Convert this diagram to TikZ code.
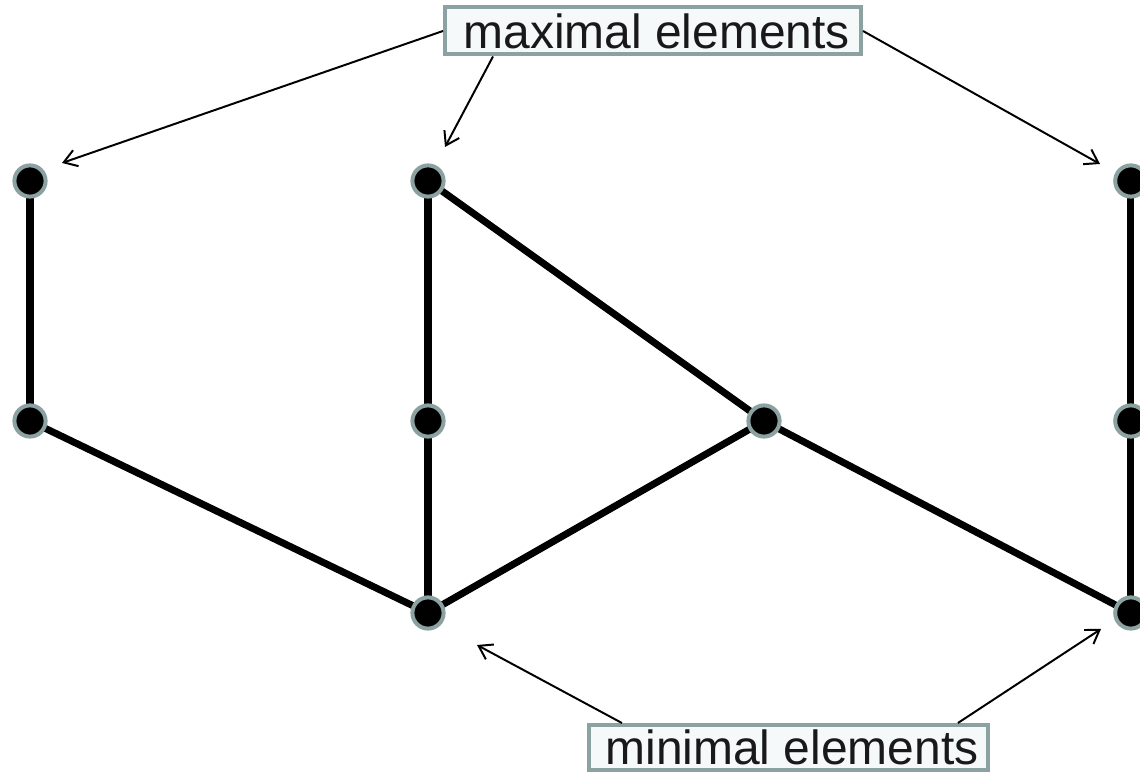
\documentclass[tikz,border=0pt]{standalone}
\usepackage{fontspec}
\setmainfont{Liberation Sans}
\usepackage{tikz}
\usetikzlibrary{calc, arrows.meta}
\usepackage{tkz-euclide}
\usepackage{xcolor}
\definecolor{rimgray}{RGB}{140,162,162}
\definecolor{boxfill}{RGB}{245,249,250}
\tikzset{
  elem/.style={circle, fill=black, draw=rimgray, line width=0.1cm, minimum size=0.78cm, inner sep=0pt},
  tag/.style={draw=rimgray, fill=boxfill, line width=0.1cm, inner sep=0pt, text=black!90, font=\fontsize{34.1}{40}\selectfont},
  pointer/.style={line width=1.4pt, -{Straight Barb[length=0.32cm, width=0.42cm]}}
}

\begin{document}
\begin{tikzpicture}
            \useasboundingbox (0,0) rectangle (28.5,19.325);
            \tkzDefPoints{0.75/14.8/A1, 0.75/8.8/A2, 10.7/14.8/B1, 10.7/8.8/B2, 10.7/4.0/B0, 19.1/8.8/C, 28.27/14.8/D1, 28.27/8.8/D2, 28.27/4.0/D0}
            \tkzDefPoints{1.55/15.25/tA, 11.125/15.65/tB, 27.5/15.225/tD, 11.925/3.2/tB0, 27.525/3.6/tD0}
            \tkzDrawSegments[line width=5pt](A1,A2 A2,B0 B1,B0 B1,C C,D0 B0,C D1,D0)
            \foreach \p in {A1,A2,B1,B2,B0,C,D1,D2,D0}
              \node[elem] (n\p) at (\p) {};
            \node[tag, minimum width=10.4cm, minimum height=1.175cm] (maxbox) at (16.325,18.55) {\hspace{0.18cm}maximal elements};
            \node[tag, minimum width=9.975cm, minimum height=1.125cm] (minbox) at (19.71,0.6375) {\hspace{0.18cm}minimal elements};
            \draw[pointer] (maxbox.west) -- (tA);
            \draw[pointer] ([xshift=1.25cm]maxbox.south west) -- (tB);
            \draw[pointer] (maxbox.east) -- (tD);
            \draw[pointer] ([xshift=0.875cm]minbox.north west) -- (tB0);
            \draw[pointer] ([xshift=-0.8cm]minbox.north east) -- (tD0);
        \end{tikzpicture}
\end{document}
